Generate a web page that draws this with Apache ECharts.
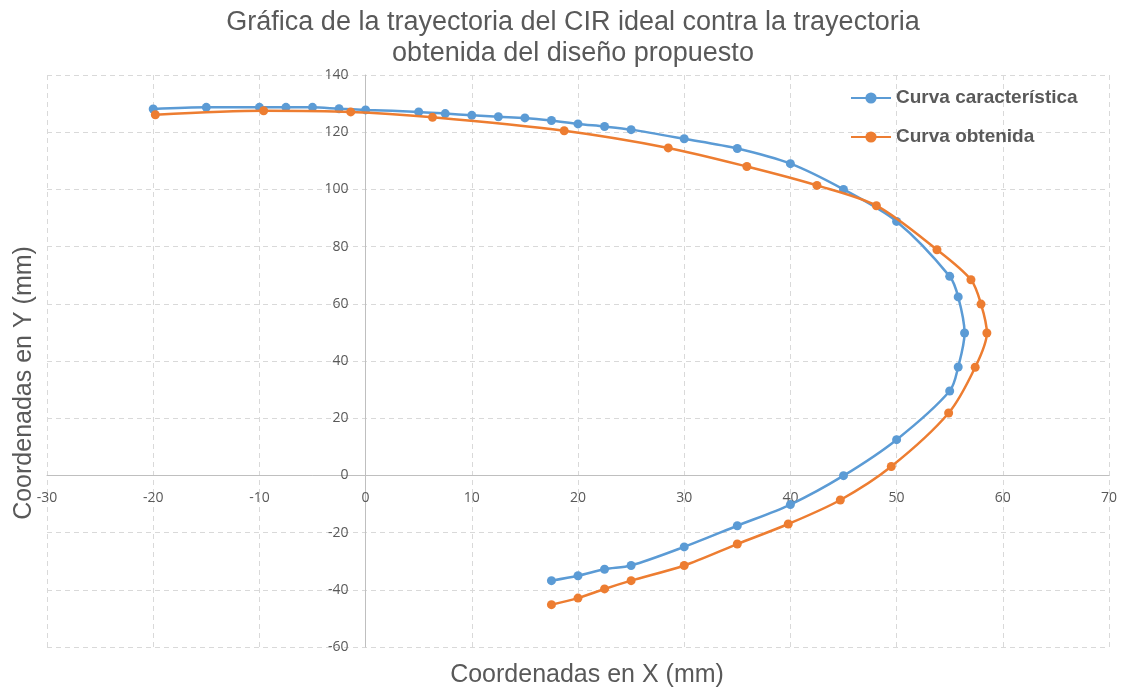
<!DOCTYPE html>
<html>
<head>
<meta charset="utf-8">
<script src="https://cdn.jsdelivr.net/npm/echarts@6/dist/echarts.min.js"></script>
<style>
  html, body { margin: 0; padding: 0; background: #fff; }
  #chart { width: 1124px; height: 692px; }
</style>
</head>
<body>
<div id="chart"></div>
<script>
// Trayectoria ideal del CIR (curva característica)
const idealX = [-20, -15, -10, -7.5, -5, -2.5, 0, 5, 7.5, 10, 12.5, 15, 17.5, 20, 22.5, 25, 30, 35, 40, 45,
  50, 55, 55.8, 56.4, 55.8, 55, 50, 45, 40, 35, 30, 25, 22.5, 20, 17.5];
const idealY = [128.1, 128.7, 128.7, 128.7, 128.7, 128.2, 127.8, 127.1, 126.5, 125.9, 125.4, 125.0, 124.1, 122.9, 122.0, 120.9, 117.7, 114.3, 109.0, 100.0,
  88.8, 69.6, 62.4, 49.8, 37.9, 29.5, 12.5, -0.1, -10.2, -17.6, -25.0, -31.5, -32.8, -35.1, -36.8];

// Trayectoria obtenida del diseño propuesto
const obtX = [-19.8, -9.6, -1.4, 6.3, 18.7, 28.5, 35.9, 42.5, 48.1, 53.8, 57.0, 57.95, 58.5, 57.4, 54.9, 49.5,
  44.7, 39.8, 35, 30, 25, 22.5, 20, 17.5];
const obtY = [126.1, 127.5, 127.1, 125.2, 120.5, 114.5, 108.0, 101.4, 94.3, 78.9, 68.4, 59.9, 49.8, 37.8, 21.8, 3.1,
  -8.6, -17.0, -24.0, -31.5, -36.8, -39.7, -42.9, -45.2];

// Escalas de los ejes
const xRange = { min: -30, max: 70, interval: 10 };
const yRange = { min: -60, max: 140, interval: 20 };

const seriesNames = ['Curva característica', 'Curva obtenida'];
const titleLines = ['Gráfica de la trayectoria del CIR ideal contra la trayectoria', 'obtenida del diseño propuesto'];
const xAxisTitle = 'Coordenadas en X (mm)';
const yAxisTitle = 'Coordenadas en Y (mm)';

const zip = (xs, ys) => xs.map((x, i) => [x, ys[i]]);

const textColor = '#595959';
const gridLine = { show: true, lineStyle: { color: '#d9d9d9', type: [5, 4], width: 1 } };

// Plot rectangle
const G = { left: 47, right: 15, top: 75, bottom: 45 };
const W = 1124 - G.left - G.right;
const H = 692 - G.top - G.bottom;
// Move each axis (line + labels) so it crosses the other axis at zero
const xAxisOffset = -H * (0 - yRange.min) / (yRange.max - yRange.min);
const yAxisOffset = -W * (0 - xRange.min) / (xRange.max - xRange.min);

const chart = echarts.init(document.getElementById('chart'), null, { renderer: 'canvas' });

chart.setOption({
  animation: false,
  backgroundColor: '#ffffff',
  grid: { left: G.left, right: G.right, top: G.top, bottom: G.bottom, containLabel: false },
  xAxis: {
    type: 'value', min: xRange.min, max: xRange.max, interval: xRange.interval,
    position: 'bottom', offset: xAxisOffset,
    axisLine: { onZero: false, lineStyle: { color: '#bfbfbf', width: 1 } },
    axisTick: { show: false },
    axisLabel: { color: textColor, fontSize: 14, fontFamily: 'Open Sans', margin: 16 },
    splitLine: gridLine
  },
  yAxis: {
    type: 'value', min: yRange.min, max: yRange.max, interval: yRange.interval,
    position: 'left', offset: yAxisOffset,
    axisLine: { show: true, onZero: false, lineStyle: { color: '#bfbfbf', width: 1 } },
    axisTick: { show: false },
    axisLabel: { color: textColor, fontSize: 14, fontFamily: 'Open Sans', margin: 17 },
    splitLine: gridLine
  },
  legend: {
    orient: 'vertical', left: 850, top: 88, padding: 0, itemGap: 19, itemWidth: 40, itemHeight: 14,
    itemTextGap: 2,
    textStyle: { color: textColor, fontSize: 19, lineHeight: 20, fontWeight: 'bold', fontFamily: 'Liberation Sans' },
    data: seriesNames
  },
  graphic: [
    { type: 'text', style: { x: 573, y: 22.5, text: titleLines[0], textAlign: 'center', textVerticalAlign: 'middle',
      fill: textColor, font: '27px "Liberation Sans"' } },
    { type: 'text', style: { x: 573, y: 54, text: titleLines[1], textAlign: 'center', textVerticalAlign: 'middle',
      fill: textColor, font: '27px "Liberation Sans"' } },
    { type: 'text', style: { x: 587, y: 675, text: xAxisTitle, textAlign: 'center', textVerticalAlign: 'middle',
      fill: textColor, font: '25px "Liberation Sans"' } },
    { type: 'text', rotation: Math.PI / 2, x: 24, y: 383,
      style: { x: 0, y: 0, text: yAxisTitle, textAlign: 'center', textVerticalAlign: 'middle',
        fill: textColor, font: '25px "Liberation Sans"' } }
  ],
  series: [
    {
      name: seriesNames[0], type: 'line', data: zip(idealX, idealY), smooth: 0.3,
      symbol: 'circle', symbolSize: 9, color: '#5b9bd5',
      lineStyle: { width: 2.5, color: '#5b9bd5' }, itemStyle: { color: '#5b9bd5' }, z: 3
    },
    {
      name: seriesNames[1], type: 'line', data: zip(obtX, obtY), smooth: 0.3,
      symbol: 'circle', symbolSize: 9, color: '#ed7d31',
      lineStyle: { width: 2.5, color: '#ed7d31' }, itemStyle: { color: '#ed7d31' }, z: 4
    }
  ]
});
</script>
</body>
</html>
